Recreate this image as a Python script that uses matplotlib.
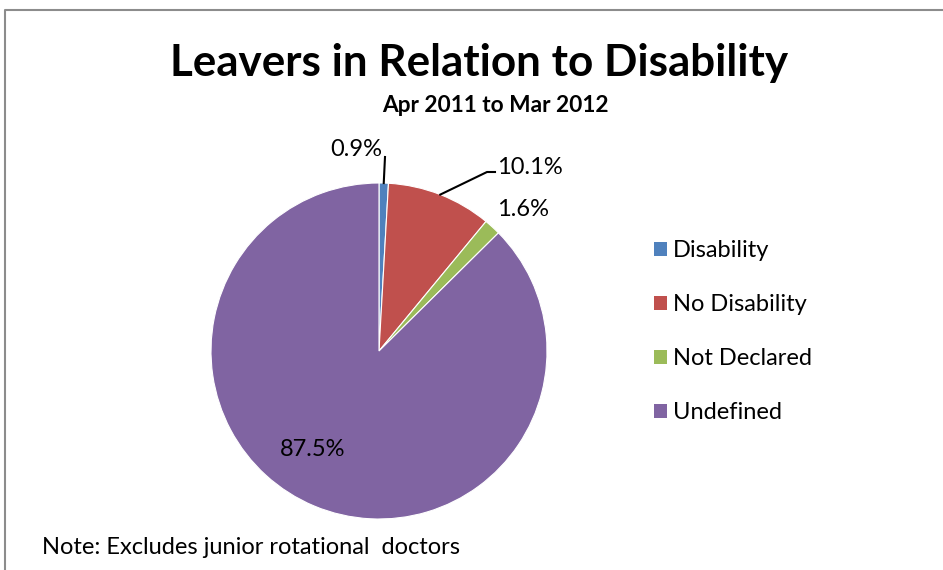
import matplotlib.pyplot as plt
from matplotlib.patches import Patch
import numpy as np

plt.rcParams['font.family'] = ['Lato', 'DejaVu Sans']

categories = ['Disability', 'No Disability', 'Not Declared', 'Undefined']
shares = [0.9, 10.1, 1.6, 87.5]
colors = ['#4F81BD', '#C0504D', '#9BBB59', '#8064A2']

W, H = 943, 570
fig = plt.figure(figsize=(W / 100, H / 100), dpi=100)
ax = fig.add_axes([0, 0, 1, 1])

wedges, _ = ax.pie(shares, colors=colors, startangle=90, counterclock=False,
                   center=(379, H - 351), radius=168,
                   wedgeprops=dict(linewidth=0.8, edgecolor='white'))
ax.set_xlim(0, W)
ax.set_ylim(0, H)
ax.set_aspect('equal')
ax.axis('off')

# frame of the chart area
ax.plot([4.5, 4.5, W], [0, H - 9.5, H - 9.5], color='#8c8c8c', lw=1.5)

ax.text(479, H - 63, 'Leavers in Relation to Disability', ha='center', va='center',
        fontsize=31.7, fontweight='bold')
ax.text(495, H - 106, 'Apr 2011 to Mar 2012', ha='center', va='center',
        fontsize=16.3, fontweight='bold')
ax.text(42, H - 547, 'Note: Excludes junior rotational  doctors', ha='left', va='center',
        fontsize=17)

# data labels
lab_pos = [(356, 150), (530, 167), (523, 210), (313, 449)]
for w, v, (lx, ly) in zip(wedges, shares, lab_pos):
    ax.text(lx, H - ly, f'{v:.1f}%', ha='center', va='center', fontsize=17)

def edge(w):
    a = np.deg2rad((w.theta1 + w.theta2) / 2)
    return 379 + 168 * np.cos(a), (H - 351) + 168 * np.sin(a)

ex, ey = edge(wedges[0])
ax.plot([ex, 385], [ey, H - 157], color='black', lw=1.5)
ex, ey = edge(wedges[1])
ax.plot([ex, 487, 495], [ey, H - 172, H - 172], color='black', lw=1.5)

handles = [Patch(facecolor=c, label=l) for c, l in zip(colors, categories)]
leg = ax.legend(handles=handles, loc='upper left', bbox_to_anchor=(633 / W, 1 - 219 / H),
                frameon=False, fontsize=17, handlelength=0.55, handleheight=0.55,
                handletextpad=0.25, labelspacing=1.4)

fig.savefig('out.png', dpi=100)
